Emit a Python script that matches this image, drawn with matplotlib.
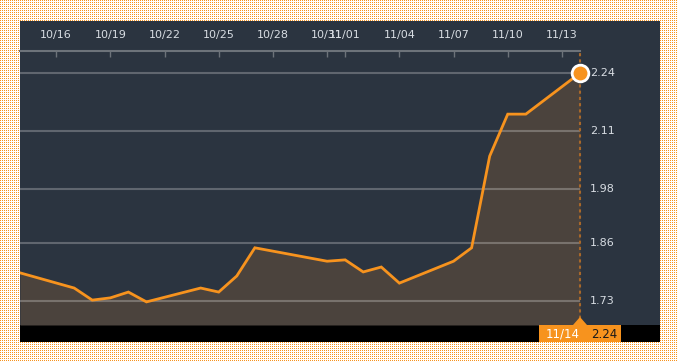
import numpy as np
import pandas as pd
import matplotlib
matplotlib.use("Agg")
import matplotlib.pyplot as plt
from matplotlib.patches import Rectangle, Polygon
from matplotlib.transforms import blended_transform_factory

# ---- data ----
dates = ["2022-10-14", "2022-10-17", "2022-10-18", "2022-10-19", "2022-10-20",
         "2022-10-21", "2022-10-24", "2022-10-25", "2022-10-26", "2022-10-27",
         "2022-10-31", "2022-11-01", "2022-11-02", "2022-11-03", "2022-11-04",
         "2022-11-07", "2022-11-08", "2022-11-09", "2022-11-10", "2022-11-11",
         "2022-11-14"]
values = [1.793, 1.759, 1.732, 1.737, 1.750,
          1.728, 1.759, 1.750, 1.786, 1.849,
          1.819, 1.822, 1.795, 1.806, 1.770,
          1.819, 1.849, 2.054, 2.148, 2.148,
          2.24]
y_ticks = [2.24, 2.11, 1.98, 1.86, 1.73]
y_tick_labels = ["2.24", "2.11", "1.98", "1.86", "1.73"]
x_tick_dates = ["2022-10-16", "2022-10-19", "2022-10-22", "2022-10-25", "2022-10-28",
                "2022-10-31", "2022-11-01", "2022-11-04", "2022-11-07", "2022-11-10",
                "2022-11-13"]
x_tick_labels = ["10/16", "10/19", "10/22", "10/25", "10/28", "10/31", "11/01",
                 "11/04", "11/07", "11/10", "11/13"]
last_label = "11/14"
last_value_label = "2.24"

W, H = 678, 362
ORANGE = "#f7931e"
PANEL = "#2b3440"
FILL = "#4b433d"
TXT = "#d8dde3"

dt = pd.to_datetime(dates)
xt = pd.to_datetime(x_tick_dates)

fig = plt.figure(figsize=(W / 100, H / 100), dpi=100)
fig.patch.set_facecolor("white")

# dotted orange background pattern
pat = np.ones((H, W, 3))
yy, xx = np.mgrid[0:H, 0:W]
mask = (yy % 2 == 0) & (xx % 2 == 0)
pat[mask] = np.array([247, 147, 30]) / 255.0
fig.figimage(pat, xo=0, yo=0, zorder=0)

def fx(px):
    return px / W

def fy(py):
    return 1 - py / H

# dark panel and black bottom band
fig.patches.append(Rectangle((fx(20), fy(342)), (660 - 20) / W, (342 - 21) / H,
                             transform=fig.transFigure, facecolor=PANEL,
                             edgecolor="none", zorder=1))
fig.patches.append(Rectangle((fx(20), fy(342)), (660 - 20) / W, (342 - 325) / H,
                             transform=fig.transFigure, facecolor="black",
                             edgecolor="none", zorder=1))

ax = fig.add_axes([fx(20), fy(325), (580 - 20) / W, (325 - 51) / H])
ax.set_facecolor("none")
ax.set_zorder(2)

s = 0.51 / 228.0
ymin = 1.73 - 24 * s
ymax = 2.24 + 22 * s
ax.set_ylim(ymin, ymax)
ax.set_xlim(dt[0], dt[-1])

ax.fill_between(dt, values, ymin, color=FILL, zorder=1, linewidth=0)
for v in y_ticks:
    ax.axhline(v, color="white", alpha=0.25, lw=1.5, zorder=2)
ax.plot(dt, values, color=ORANGE, lw=2, zorder=3, solid_joinstyle="miter")
ax.axvline(dt[-1], ymin=0, ymax=1, color="#a8682a", lw=1.5, ls=(0, (1.5, 1.5)),
           zorder=2, clip_on=False)
ax.plot([dt[-1]], [values[-1]], "o", ms=12, mfc=ORANGE, mec="white", mew=2,
        zorder=5, clip_on=False)

for sp in ["left", "right", "bottom"]:
    ax.spines[sp].set_visible(False)
ax.spines["top"].set_color("#6d737a")
ax.spines["top"].set_linewidth(1.5)

ax.set_yticks([])
ax.xaxis.tick_top()
ax.set_xticks(xt)
ax.set_xticklabels(x_tick_labels)
ax.tick_params(axis="x", direction="in", length=4, width=1, color="#6d737a",
               labelcolor=TXT, labelsize=8, pad=8)

tr = blended_transform_factory(ax.transAxes, ax.transData)
for v, lab in zip(y_ticks, y_tick_labels):
    ax.text(1.018, v, lab, transform=tr, color=TXT, fontsize=8,
            ha="left", va="center")

# last-value label box
fig.patches.append(Rectangle((fx(539), fy(342)), (621 - 539) / W, (342 - 325) / H,
                             transform=fig.transFigure, facecolor=ORANGE,
                             edgecolor="none", zorder=3))
fig.patches.append(Polygon([[fx(573), fy(325)], [fx(587), fy(325)], [fx(580), fy(317)]],
                           closed=True, transform=fig.transFigure, facecolor=ORANGE,
                           edgecolor="none", zorder=3))
fig.text(fx(563), fy(334), last_label, color="white", fontsize=8.5,
         ha="center", va="center", zorder=4)
fig.text(fx(604), fy(334), last_value_label, color="#1a1a1a", fontsize=8.5,
         ha="center", va="center", zorder=4)

fig.savefig("out.png", dpi=100)
